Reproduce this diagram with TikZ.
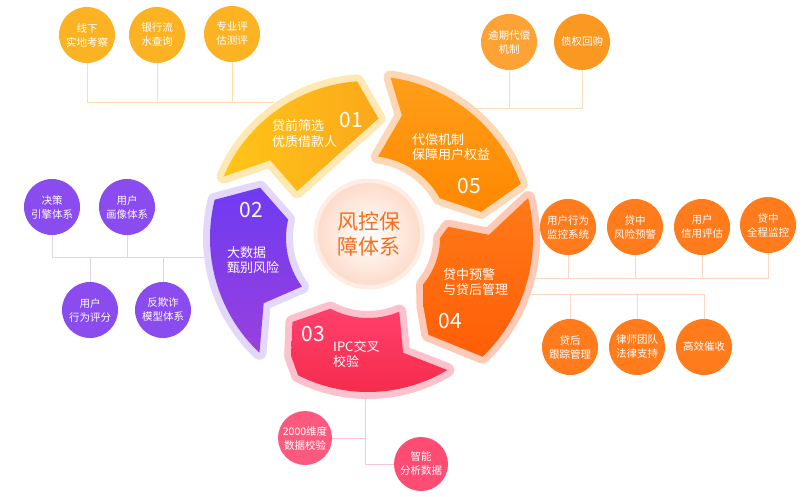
\documentclass[tikz,border=0pt]{standalone}
\usepackage{fontspec}
\setmainfont{Noto Sans CJK SC}
\usepackage{tikz}
\usetikzlibrary{positioning}
% bubbles
\definecolor{fkYellow}{HTML}{FBB323}
\definecolor{fkAmberA}{HTML}{FDA335}
\definecolor{fkAmberB}{HTML}{FB9822}
\definecolor{fkPurple}{HTML}{8A4BEF}
\definecolor{fkOrange}{HTML}{FF7B1C}
\definecolor{fkPinkA}{HTML}{FB5A7E}
\definecolor{fkPinkB}{HTML}{FF4C72}
\definecolor{fkTitle}{HTML}{F4701E}
% wires
\definecolor{lnYellow}{HTML}{FCE1A2}
\definecolor{lnAmber}{HTML}{FADDBF}
\definecolor{lnPurple}{HTML}{DCD2F4}
\definecolor{lnOrange}{HTML}{FBD6C2}
\definecolor{lnPink}{HTML}{F9C6D1}
% ring
\definecolor{haYellow}{HTML}{FEE8B3}
\definecolor{haAmber}{HTML}{FDD8B6}
\definecolor{haOrange}{HTML}{FCCAB6}
\definecolor{haPink}{HTML}{FBC1CC}
\definecolor{haPurple}{HTML}{E3D7FA}
\definecolor{sgYellowA}{HTML}{FFC518}
\definecolor{sgYellowB}{HTML}{FBA81A}
\definecolor{sgAmberA}{HTML}{FF9E1A}
\definecolor{sgAmberB}{HTML}{FF8800}
\definecolor{sgOrangeA}{HTML}{FF7A18}
\definecolor{sgOrangeB}{HTML}{FF5E06}
\definecolor{sgPinkA}{HTML}{FF406C}
\definecolor{sgPinkB}{HTML}{F52A4A}
\definecolor{sgPurpleA}{HTML}{6E3BF2}
\definecolor{sgPurpleB}{HTML}{9940DE}
\definecolor{hubIn}{HTML}{FFFFFF}
\definecolor{hubOut}{HTML}{FDDCCB}
\definecolor{hubRim}{HTML}{FEEDE4}

\begin{document}
\begin{tikzpicture}[x=1pt, y=1pt,
  bubble/.style={circle, fill=#1, minimum size=56pt, inner sep=0pt,
                 text=white, align=center, font=\fontsize{10.5}{14}\selectfont},
  wire/.style={draw=#1, line width=0.8pt},
  seg/.style={preaction={draw=#1, fill=#1, line width=14pt, line join=round}},
  segtext/.style={text=white, align=left, anchor=west, inner sep=0pt,
                  font=\fontsize{13}{15.5}\selectfont},
  segnum/.style={text=white, inner sep=0pt, font=\fontsize{21}{21}\selectfont},
  hub/.style={circle, minimum size=102pt, inner color=hubIn, outer color=hubOut,
              preaction={draw=hubRim, line width=9pt}, text=fkTitle, align=center,
              font=\fontsize{21}{25}\selectfont},
]
  \useasboundingbox (0,0) rectangle (802,496);

  % TOP LEFT
  \node[bubble=fkYellow] (t1) at (87,461) {线下\\实地考察};
  \node[bubble=fkYellow] (t2) at (157,461) {银行流\\水查询};
  \node[bubble=fkYellow] (t3) at (232,462) {专业评\\估测评};
  \coordinate (tbus) at (274,394);
  \draw[wire=lnYellow] (t1) -- (t1 |- tbus) -- (tbus);
  \draw[wire=lnYellow] (t2) -- (t2 |- tbus);
  \draw[wire=lnYellow] (t3) -- (t3 |- tbus);

  % TOP RIGHT
  \node[bubble=fkAmberA] (r1) at (509,454) {逾期代偿\\机制};
  \node[bubble=fkAmberB] (r2) at (582,454) {债权回购};
  \coordinate (rbus) at (470,388);
  \draw[wire=lnAmber] (r2) -- (r2 |- rbus) -- (rbus);
  \draw[wire=lnAmber] (r1) -- (r1 |- rbus);

  % LEFT
  \node[bubble=fkPurple] (l1) at (52,289) {决策\\引擎体系};
  \node[bubble=fkPurple] (l2) at (127,289) {用户\\画像体系};
  \node[bubble=fkPurple] (l3) at (90,186) {用户\\行为评分};
  \node[bubble=fkPurple] (l4) at (163,186) {反欺诈\\模型体系};
  \coordinate (lbus) at (208,239);
  \draw[wire=lnPurple] (l1) -- (l1 |- lbus) -- (lbus);
  \draw[wire=lnPurple] (l2) -- (l2 |- lbus);
  \draw[wire=lnPurple] (l3) -- (l3 |- lbus);
  \draw[wire=lnPurple] (l4) -- (l4 |- lbus);

  % RIGHT
  \node[bubble=fkOrange] (o1) at (568,269) {用户行为\\监控系统};
  \node[bubble=fkOrange] (o2) at (635,269) {贷中\\风险预警};
  \node[bubble=fkOrange] (o3) at (702,269) {用户\\信用评估};
  \node[bubble=fkOrange] (o4) at (768,271) {贷中\\全程监控};
  \node[bubble=fkOrange] (o5) at (570,149) {贷后\\跟踪管理};
  \node[bubble=fkOrange] (o6) at (637,149) {律师团队\\法律支持};
  \node[bubble=fkOrange] (o7) at (704,149) {高效催收};
  \coordinate (obus1) at (522,218);
  \coordinate (obus2) at (522,202);
  \draw[wire=lnOrange] (o4) -- (o4 |- obus1) -- (obus1);
  \draw[wire=lnOrange] (o1) -- (o1 |- obus1);
  \draw[wire=lnOrange] (o2) -- (o2 |- obus1);
  \draw[wire=lnOrange] (o3) -- (o3 |- obus1);
  \draw[wire=lnOrange] (o7) -- (o7 |- obus2) -- (obus2);
  \draw[wire=lnOrange] (o5) -- (o5 |- obus2);
  \draw[wire=lnOrange] (o6) -- (o6 |- obus2);

  % BOTTOM
  \node[bubble=fkPinkA, minimum size=54pt] (p1) at (305,58) {2000维度\\数据校验};
  \node[bubble=fkPinkB, minimum size=54pt] (p2) at (421,32) {智能\\分析数据};
  \coordinate (ptop) at (365,100);
  \coordinate (pmid) at (365,58);
  \coordinate (pend) at (365,32);
  \draw[wire=lnPink] (ptop) -- (pend) -- (p2);
  \draw[wire=lnPink] (p1) -- (pmid);

  % RING
  \begin{scope}[shift={(368,258)}]
    \path[seg=haYellow, left color=sgYellowA, right color=sgYellowB]
      (157:157) arc[start angle=157, end angle=94, radius=157]
      -- (85:120) -- (146.5:85) -- (141.5:125) -- cycle;
    \path[seg=haAmber, top color=sgAmberA, bottom color=sgAmberB]
      (82:162) arc[start angle=82, end angle=19.5, radius=162]
      -- (13:116) -- (29:82) arc[start angle=29, end angle=83, radius=82]
      -- (74.5:127) -- cycle;
    \path[seg=haOrange, top color=sgOrangeA, bottom color=sgOrangeB]
      (14:165) arc[start angle=14, end angle=-46, radius=165]
      -- (-58:114) -- (-51:88) -- (-40:72) arc[start angle=-40, end angle=0, radius=72]
      -- (8:81) -- (1.5:121) -- cycle;
    \path[seg=haPink, top color=sgPinkA, bottom color=sgPinkB]
      (-132:113) -- (-118:80) arc[start angle=-118, end angle=-67, radius=80]
      -- (-73:120) -- (-59:154) arc[start angle=-59, end angle=-117, radius=154]
      -- (-123:141) -- cycle;
    \path[seg=haPurple, top color=sgPurpleA, bottom color=sgPurpleB]
      (-133.4:158) -- (-148:123) -- (-143.7:82) arc[start angle=-143.7, end angle=-193, radius=82]
      -- (155:119) -- (166:158) arc[start angle=166, end angle=226.6, radius=158] -- cycle;
  \end{scope}

  % LABELS
  \node[segnum] (n1) at (351.5,375.5) {01};
  \node[segtext] (s1) at (272,362.5) {贷前筛选\\优质借款人};
  \node[segnum] (n5) at (469.5,309.5) {05};
  \node[segtext] (s5) at (412,349) {代偿机制\\保障用户权益};
  \node[segnum] (n4) at (450,174.5) {04};
  \node[segtext] (s4) at (443,214) {贷中预警\\与贷后管理};
  \node[segnum] (n3) at (313.5,161.5) {03};
  \node[segtext] (s3) at (333,142) {IPC交叉\\校验};
  \node[segnum] (n2) at (251.5,286) {02};
  \node[segtext] (s2) at (227,236) {大数据\\甄别风险};

  \node[hub] (hub) at (369,262) {风控保\\障体系};
\end{tikzpicture}
\end{document}
